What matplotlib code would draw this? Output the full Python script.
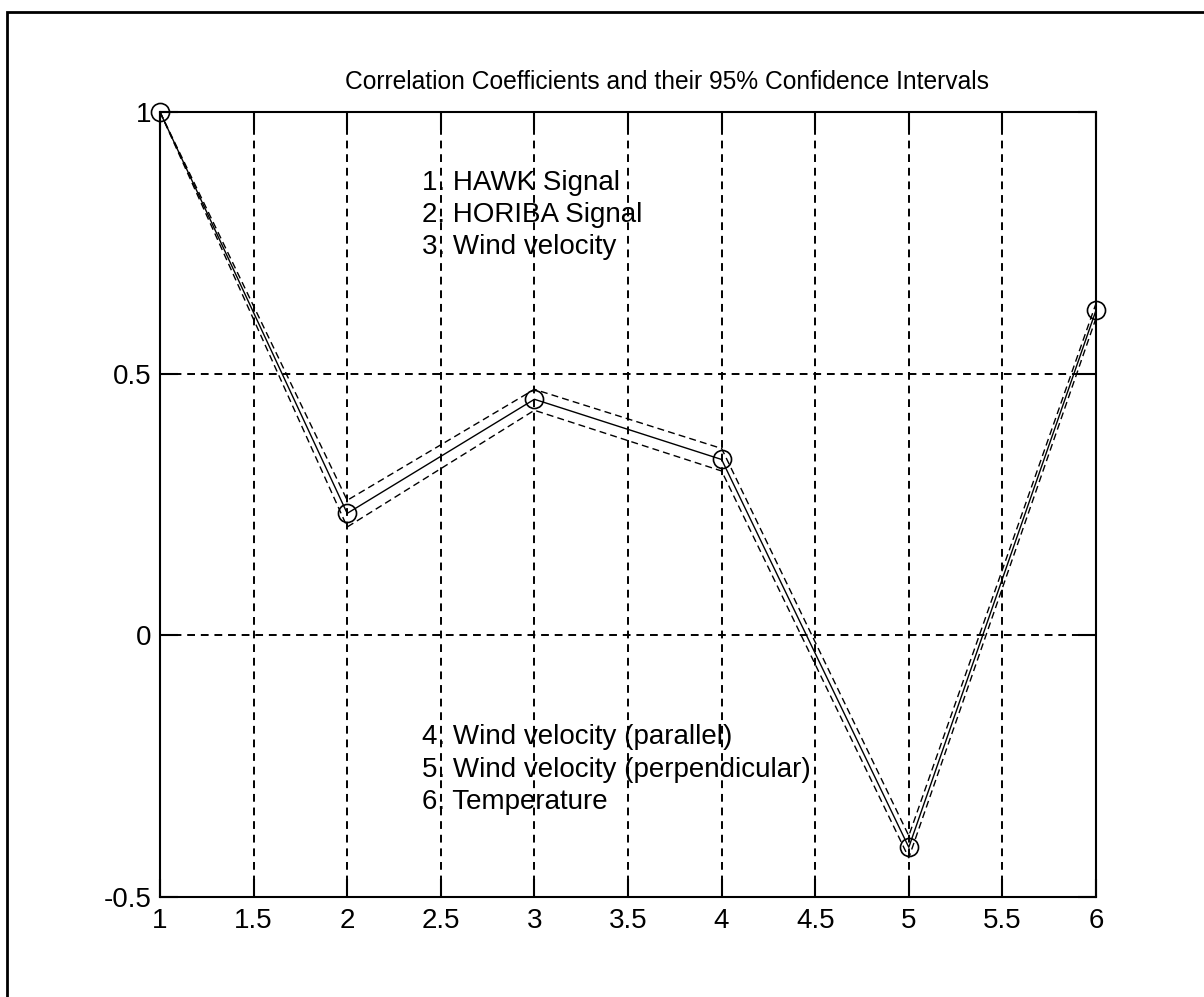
import matplotlib
matplotlib.use("Agg")
import matplotlib.pyplot as plt
from matplotlib.patches import Rectangle

plt.rcParams['font.family'] = ['Liberation Sans', 'DejaVu Sans']

# variable index and correlation values
var_index = [1, 2, 3, 4, 5, 6]
corr_coef = [1.0, 0.233, 0.451, 0.336, -0.405, 0.621]
ci_upper = [1.0, 0.258, 0.470, 0.357, -0.383, 0.634]
ci_lower = [1.0, 0.207, 0.430, 0.314, -0.425, 0.606]

top_labels = ["1. HAWK Signal", "2. HORIBA Signal", "3. Wind velocity"]
bottom_labels = ["4. Wind velocity (parallel)", "5. Wind velocity (perpendicular)",
                 "6. Temperature"]

x_ticks = [1, 1.5, 2, 2.5, 3, 3.5, 4, 4.5, 5, 5.5, 6]
y_ticks = [-0.5, 0, 0.5, 1]
x_ticklabels = ["1", "1.5", "2", "2.5", "3", "3.5", "4", "4.5", "5", "5.5", "6"]
y_ticklabels = ["-0.5", "0", "0.5", "1"]

title = "Correlation Coefficients and their 95% Confidence Intervals"

fig = plt.figure(figsize=(12.04, 9.97), dpi=100)
ax = fig.add_axes([0.1329, 0.1003, 0.7774, 0.7874])

# outer frame (only top/left visible in the original)
fig.patches.append(Rectangle((0.0058, -0.2), 1.3, 1.188, transform=fig.transFigure,
                             fill=False, edgecolor='black', linewidth=2))

ax.plot(var_index, ci_upper, color='black', linestyle=(0, (5, 3)), linewidth=1.0)
ax.plot(var_index, ci_lower, color='black', linestyle=(0, (5, 3)), linewidth=1.0)
ax.plot(var_index, corr_coef, color='black', linewidth=1.0, marker='o',
        markersize=13, markerfacecolor='none', markeredgewidth=1.2, clip_on=False)

ax.set_xlim(1, 6)
ax.set_ylim(-0.5, 1)
ax.set_xticks(x_ticks)
ax.set_xticklabels(x_ticklabels)
ax.set_yticks(y_ticks)
ax.set_yticklabels(y_ticklabels)
ax.grid(True, color='black', linestyle=(0, (4, 3)), linewidth=1.4)
ax.tick_params(direction='in', length=13, width=1.5, top=True, right=True,
               labelsize=20, colors='black')
ax.tick_params(axis='x', pad=8)
ax.tick_params(axis='y', pad=6)
for sp in ax.spines.values():
    sp.set_linewidth(1.5)

for i, lab in enumerate(top_labels):
    ax.text(2.4, 0.864 - i * 0.061, lab, fontsize=20, va='center', ha='left')
for i, lab in enumerate(bottom_labels):
    ax.text(2.4, -0.195 - i * 0.062, lab, fontsize=20, va='center', ha='left')

fig.text(667 / 1204, 1 - 82 / 997, title, fontsize=17.7, ha='center', va='center')

fig.savefig("out.png", dpi=100)
